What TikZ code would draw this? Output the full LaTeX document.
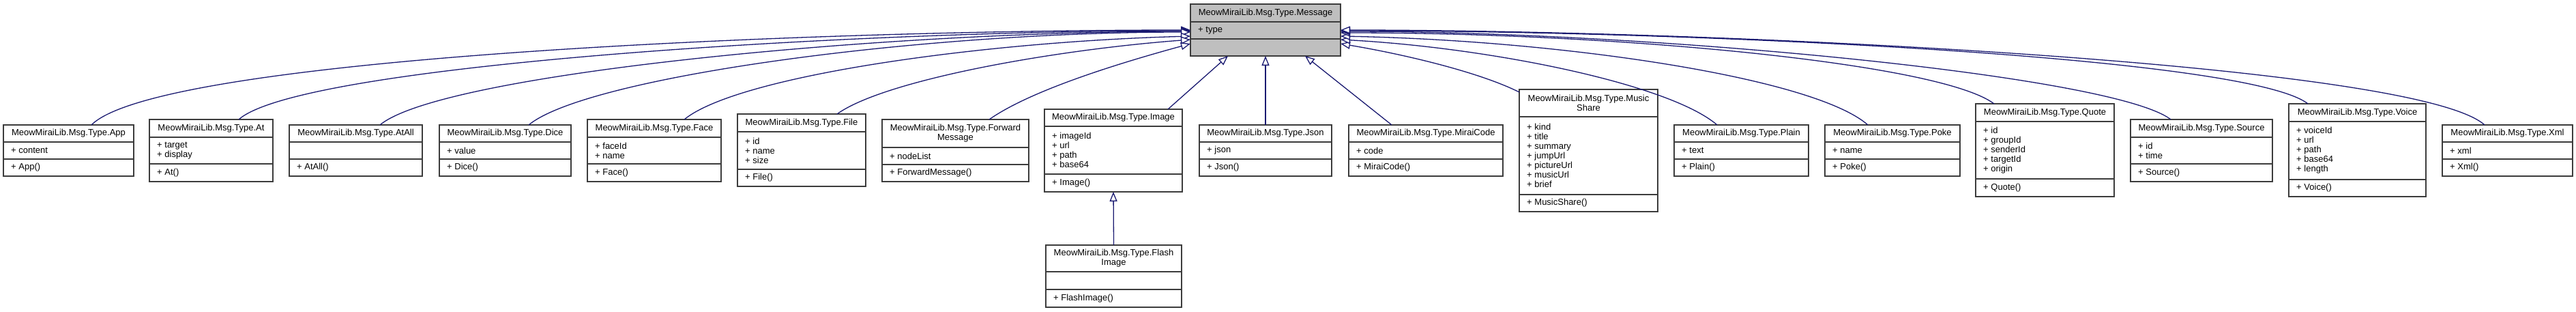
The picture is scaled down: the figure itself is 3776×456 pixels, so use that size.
\documentclass[tikz,border=0pt]{standalone}
\usepackage{fontspec}
\setmainfont{Liberation Sans}
\usetikzlibrary{arrows.meta}
\definecolor{edgec}{HTML}{191970}
\definecolor{rootfill}{HTML}{BFBFBF}
\definecolor{boxline}{HTML}{3C3C3C}
\newcommand\clsfont{\fontsize{13}{14}\selectfont}
\tikzset{
  clsbox/.style={draw=boxline, line width=1.4pt, rectangle, inner sep=0pt, outer sep=0pt, anchor=north west},
  clssep/.style={draw=boxline, line width=1.4pt},
  clstitle/.style={inner sep=0pt, align=center, font=\clsfont},
  clsmember/.style={inner sep=0pt, anchor=west, align=left, font=\clsfont},
  inh/.style={draw=edgec, line width=1.3pt, -{Triangle[length=14pt, width=11pt, fill=white]}},
}
% \umlclass{name}(x1,x2,top,sep1,sep2,bottom){title}{attributes}[fill]{methods}
\def\umlclass#1(#2,#3,#4,#5,#6,#7)#8#9{%
  \def\ucN{#1}\def\ucXa{#2}\def\ucXb{#3}\def\ucT{#4}\def\ucSa{#5}\def\ucSb{#6}\def\ucB{#7}%
  \def\ucTitle{#8}\def\ucAttr{#9}\umlclassfinish}
\newcommand\umlclassfinish[2][white]{%
  \node[clsbox, fill=#1, minimum width={\ucXb-\ucXa}, minimum height={\ucB-\ucT}] (\ucN) at (\ucXa,\ucT) {};
  \draw[clssep] (\ucXa,\ucSa) -- (\ucXb,\ucSa);
  \draw[clssep] (\ucXa,\ucSb) -- (\ucXb,\ucSb);
  \node[clstitle] (\ucN-t) at ({(\ucXa+\ucXb)/2},{(\ucT+\ucSa)/2}) {\ucTitle};
  \node[clsmember] (\ucN-a) at ({\ucXa+11},{(\ucSa+\ucSb)/2}) {\ucAttr};
  \node[clsmember] (\ucN-m) at ({\ucXa+11},{(\ucSb+\ucB)/2}) {#2};
}
\begin{document}
\begin{tikzpicture}[x=1pt,y=-1pt]
\useasboundingbox (0,0) rectangle (3776,456);
\umlclass{Message}(1745,1965,6,32,57,82){MeowMiraiLib.Msg.Type.Message}{+ type}[rootfill]{}
\umlclass{App}(5,196,183,208,233,258){MeowMiraiLib.Msg.Type.App}{+ content}{+ App()}
\umlclass{At}(219,400,175,201,240,266){MeowMiraiLib.Msg.Type.At}{+ target\\+ display}{+ At()}
\umlclass{AtAll}(424,619,183,208,233,258){MeowMiraiLib.Msg.Type.AtAll}{}{+ AtAll()}
\umlclass{Dice}(644,837,183,208,233,258){MeowMiraiLib.Msg.Type.Dice}{+ value}{+ Dice()}
\umlclass{Face}(861,1057,175,201,240,266){MeowMiraiLib.Msg.Type.Face}{+ faceId\\+ name}{+ Face()}
\umlclass{File}(1081,1269,167,193,248,273){MeowMiraiLib.Msg.Type.File}{+ id\\+ name\\+ size}{+ File()}
\umlclass{Forward}(1293,1508,175,216,241,266){MeowMiraiLib.Msg.Type.Forward\\Message}{+ nodeList}{+ ForwardMessage()}
\umlclass{Image}(1531,1733,160,185,255,281){MeowMiraiLib.Msg.Type.Image}{+ imageId\\+ url\\+ path\\+ base64}{+ Image()}
\umlclass{Flash}(1533,1732,359,398,424,450){MeowMiraiLib.Msg.Type.Flash\\Image}{}{+ FlashImage()}
\umlclass{Json}(1758,1952,183,208,233,258){MeowMiraiLib.Msg.Type.Json}{+ json}{+ Json()}
\umlclass{Mirai}(1977,2203,183,208,233,258){MeowMiraiLib.Msg.Type.MiraiCode}{+ code}{+ MiraiCode()}
\umlclass{Music}(2227,2430,131,171,285,310){MeowMiraiLib.Msg.Type.Music\\Share}{+ kind\\+ title\\+ summary\\+ jumpUrl\\+ pictureUrl\\+ musicUrl\\+ brief}{+ MusicShare()}
\umlclass{Plain}(2454,2651,183,208,233,258){MeowMiraiLib.Msg.Type.Plain}{+ text}{+ Plain()}
\umlclass{Poke}(2675,2873,183,208,233,258){MeowMiraiLib.Msg.Type.Poke}{+ name}{+ Poke()}
\umlclass{Quote}(2896,3099,152,178,262,288){MeowMiraiLib.Msg.Type.Quote}{+ id\\+ groupId\\+ senderId\\+ targetId\\+ origin}{+ Quote()}
\umlclass{Source}(3123,3331,175,201,240,266){MeowMiraiLib.Msg.Type.Source}{+ id\\+ time}{+ Source()}
\umlclass{Voice}(3355,3556,152,178,263,288){MeowMiraiLib.Msg.Type.Voice}{+ voiceId\\+ url\\+ path\\+ base64\\+ length}{+ Voice()}
\umlclass{Xml}(3580,3771,183,208,233,258){MeowMiraiLib.Msg.Type.Xml}{+ xml}{+ Xml()}
% inheritance edges, left side
\draw[inh] ([xshift=33.5pt]App.north) .. controls +(100,-100) and +(-550,0) .. (Message.west);
\draw[inh] ([xshift=40.5pt]At.north) .. controls +(90,-80) and +(-500,0) .. ([yshift=-1pt]Message.west);
\draw[inh] ([xshift=35.5pt]AtAll.north) .. controls +(90,-75) and +(-450,0) .. ([yshift=-2pt]Message.west);
\draw[inh] ([xshift=34.5pt]Dice.north) .. controls +(85,-70) and +(-400,0) .. ([yshift=-3pt]Message.west);
\draw[inh] ([xshift=44pt]Face.north) .. controls +(80,-65) and +(-300,8) .. ([yshift=-9pt]Message.west);
\draw[inh] ([xshift=52pt]File.north) .. controls +(70,-50) and +(-200,15) .. ([yshift=-14pt]Message.west);
\draw[inh] ([xshift=49.5pt]Forward.north) .. controls +(60,-42) and +(-110,30) .. ([yshift=-20pt]Message.west);
% bottom
\draw[inh] ([xshift=80pt]Image.north) -- ([xshift=-55pt]Message.south);
\draw[inh] (Json.north) -- (Message.south);
\draw[inh] ([xshift=-50pt]Mirai.north) -- ([xshift=58pt]Message.south);
% right side
\draw[inh] ([yshift=-4pt]Music.north west) .. controls +(-60,-30) and +(90,15) .. ([yshift=-20pt]Message.east);
\draw[inh] ([xshift=-35.5pt]Plain.north) .. controls +(-70,-60) and +(220,12) .. ([yshift=-14pt]Message.east);
\draw[inh] ([xshift=-36pt]Poke.north) .. controls +(-80,-70) and +(320,6) .. ([yshift=-9pt]Message.east);
\draw[inh] ([xshift=-74.5pt]Quote.north) .. controls +(-80,-60) and +(400,0) .. ([yshift=-4pt]Message.east);
\draw[inh] ([xshift=-45pt]Source.north) .. controls +(-85,-65) and +(450,0) .. ([yshift=-2pt]Message.east);
\draw[inh] ([xshift=-72.5pt]Voice.north) .. controls +(-90,-70) and +(500,0) .. ([yshift=-1pt]Message.east);
\draw[inh] ([xshift=-33.5pt]Xml.north) .. controls +(-100,-90) and +(550,0) .. (Message.east);
% FlashImage
\draw[inh] (Flash.north) -- (Image.south);
\end{tikzpicture}
\end{document}
